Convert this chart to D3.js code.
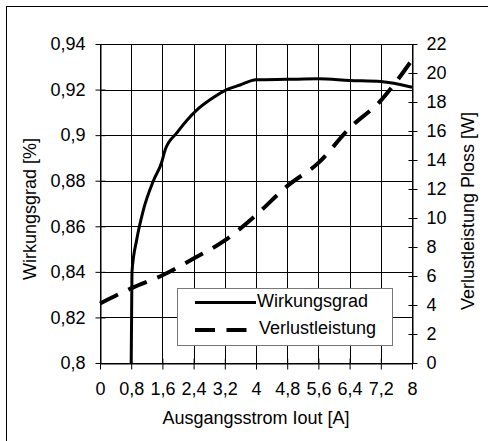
<!DOCTYPE html>
<html>
<head>
<meta charset="utf-8">
<script src="https://cdn.jsdelivr.net/npm/d3@7"></script>
<style>
  html, body { margin: 0; padding: 0; background: #fff; }
  svg { display: block; }
  text { font-family: "Liberation Sans", Arial, sans-serif; fill: #000; }
</style>
</head>
<body>
<svg id="chart" width="488" height="441"></svg>
<script>
// ---- Data ----
const xTicks = [0, 0.8, 1.6, 2.4, 3.2, 4.0, 4.8, 5.6, 6.4, 7.2, 8.0];
const xTickLabels = ["0", "0,8", "1,6", "2,4", "3,2", "4", "4,8", "5,6", "6,4", "7,2", "8"];
const effTicks = [0.80, 0.82, 0.84, 0.86, 0.88, 0.90, 0.92, 0.94];
const effTickLabels = ["0,8", "0,82", "0,84", "0,86", "0,88", "0,9", "0,92", "0,94"];
const lossTicks = [0, 2, 4, 6, 8, 10, 12, 14, 16, 18, 20, 22];
const lossTickLabels = ["0", "2", "4", "6", "8", "10", "12", "14", "16", "18", "20", "22"];

// Wirkungsgrad (efficiency) vs. Iout
const effCurrent = [0.80, 0.81, 0.82, 0.94, 1.11, 1.37, 1.58, 1.67, 1.97, 2.48, 2.82, 3.25, 3.59, 4.0, 4.8, 5.6, 6.4, 7.2, 8.0];
const effValues  = [0.800, 0.820, 0.840, 0.854, 0.867, 0.880, 0.888, 0.8935, 0.901, 0.911, 0.9155, 0.920, 0.922, 0.9243, 0.9245, 0.9247, 0.924, 0.9235, 0.921];

// Verlustleistung (loss power) vs. Iout
const lossCurrent = [0, 0.8, 1.6, 2.4, 3.2, 4.0, 4.8, 5.6, 6.4, 7.2, 8.0];
const lossValues  = [4.1, 5.15, 6.05, 7.2, 8.45, 10.2, 12.2, 13.8, 16.2, 18.1, 20.9];

const seriesNames = ["Wirkungsgrad", "Verlustleistung"];
const xTitle = "Ausgangsstrom Iout [A]";
const yLeftTitle = "Wirkungsgrad [%]";
const yRightTitle = "Verlustleistung Ploss [W]";

// ---- Layout ----
const L = 100, R = 412, T = 44, B = 363;
const FONT = 18;

const svg = d3.select("#chart");

// outer frame (cut off at right/bottom)
svg.append("rect")
  .attr("x", 6.5).attr("y", 6.5).attr("width", 600).attr("height", 600)
  .attr("fill", "none").attr("stroke", "#000").attr("stroke-width", 1);

const x = d3.scaleLinear().domain([0, 8]).range([L, R]);
const yL = d3.scaleLinear().domain([0.80, 0.94]).range([B, T]);
const yR = d3.scaleLinear().domain([0, 22]).range([B, T]);

const crisp = v => Math.round(v) + 0.5;

// gridlines
const grid = svg.append("g");
grid.selectAll("line.v").data(xTicks).join("line")
  .attr("x1", d => crisp(x(d))).attr("x2", d => crisp(x(d)))
  .attr("y1", T).attr("y2", B)
  .attr("stroke", "#000").attr("stroke-width", 1);
grid.selectAll("line.h").data(effTicks).join("line")
  .attr("x1", L).attr("x2", R)
  .attr("y1", d => crisp(yL(d))).attr("y2", d => crisp(yL(d)))
  .attr("stroke", "#000").attr("stroke-width", 1);

// axes
const fmtFrom = (ticks, labels) => d => labels[ticks.findIndex(t => Math.abs(t - d) < 1e-9)];

const axL = svg.append("g").attr("transform", `translate(${crisp(L)},0)`)
  .call(d3.axisLeft(yL).tickValues(effTicks).tickFormat(fmtFrom(effTicks, effTickLabels))
    .tickSizeOuter(0).tickSizeInner(5).tickPadding(10));
const axR = svg.append("g").attr("transform", `translate(${crisp(R)},0)`)
  .call(d3.axisRight(yR).tickValues(lossTicks).tickFormat(fmtFrom(lossTicks, lossTickLabels))
    .tickSizeOuter(0).tickSizeInner(5).tickPadding(9));
const axB = svg.append("g").attr("transform", `translate(0,${crisp(B)})`)
  .call(d3.axisBottom(x).tickValues(xTicks).tickFormat(fmtFrom(xTicks, xTickLabels))
    .tickSizeOuter(0).tickSizeInner(6).tickPadding(13));

[axL, axR, axB].forEach(a => {
  a.select(".domain").attr("stroke", "#000").attr("stroke-width", 1);
  a.selectAll(".tick line").attr("stroke", "#000").attr("stroke-width", 1);
  a.selectAll(".tick text").style("font-family", '"Liberation Sans", Arial, sans-serif')
    .style("font-size", FONT + "px").attr("fill", "#000");
});
// inner part of right-axis ticks (crossing marks)
axR.selectAll(".tick").append("line")
  .attr("x1", -4).attr("x2", 0).attr("stroke", "#000").attr("stroke-width", 1);
axB.selectAll(".tick line").attr("y1", -5);
axL.selectAll(".tick line").attr("x1", 5);

// axis titles
svg.append("text")
  .attr("x", (L + R) / 2).attr("y", 424)
  .attr("text-anchor", "middle").style("font-size", FONT + "px")
  .text(xTitle);
svg.append("text")
  .attr("transform", "translate(35.5,209) rotate(-90)")
  .attr("text-anchor", "middle").style("font-size", FONT + "px")
  .text(yLeftTitle);
svg.append("text")
  .attr("transform", "translate(474,211) rotate(-90)")
  .attr("text-anchor", "middle").style("font-size", FONT + "px")
  .text(yRightTitle);

// lines
const effData = effCurrent.map((c, i) => [c, effValues[i]]);
const lossData = lossCurrent.map((c, i) => [c, lossValues[i]]);

svg.append("path")
  .datum(effData)
  .attr("d", d3.line().x(d => x(d[0])).y(d => yL(d[1])).curve(d3.curveMonotoneX))
  .attr("fill", "none").attr("stroke", "#000").attr("stroke-width", 3)
  .attr("stroke-linejoin", "round");

svg.append("path")
  .datum(lossData)
  .attr("d", d3.line().x(d => x(d[0])).y(d => yR(d[1])).curve(d3.curveMonotoneX))
  .attr("fill", "none").attr("stroke", "#000").attr("stroke-width", 4)
  .attr("stroke-dasharray", "20,11.5");

// legend
const lg = svg.append("g");
lg.append("rect")
  .attr("x", 177.5).attr("y", 288.5).attr("width", 215).attr("height", 57)
  .attr("fill", "#fff").attr("stroke", "#777").attr("stroke-width", 1);
lg.append("line").attr("x1", 195).attr("x2", 256).attr("y1", 302.5).attr("y2", 302.5)
  .attr("stroke", "#000").attr("stroke-width", 3);
lg.append("line").attr("x1", 195).attr("x2", 248).attr("y1", 330).attr("y2", 330)
  .attr("stroke", "#000").attr("stroke-width", 4).attr("stroke-dasharray", "20,11.5");
lg.append("text").attr("x", 257).attr("y", 306.5).style("font-size", FONT + "px").text(seriesNames[0]);
lg.append("text").attr("x", 259).attr("y", 334).style("font-size", FONT + "px").text(seriesNames[1]);
</script>
</body>
</html>
